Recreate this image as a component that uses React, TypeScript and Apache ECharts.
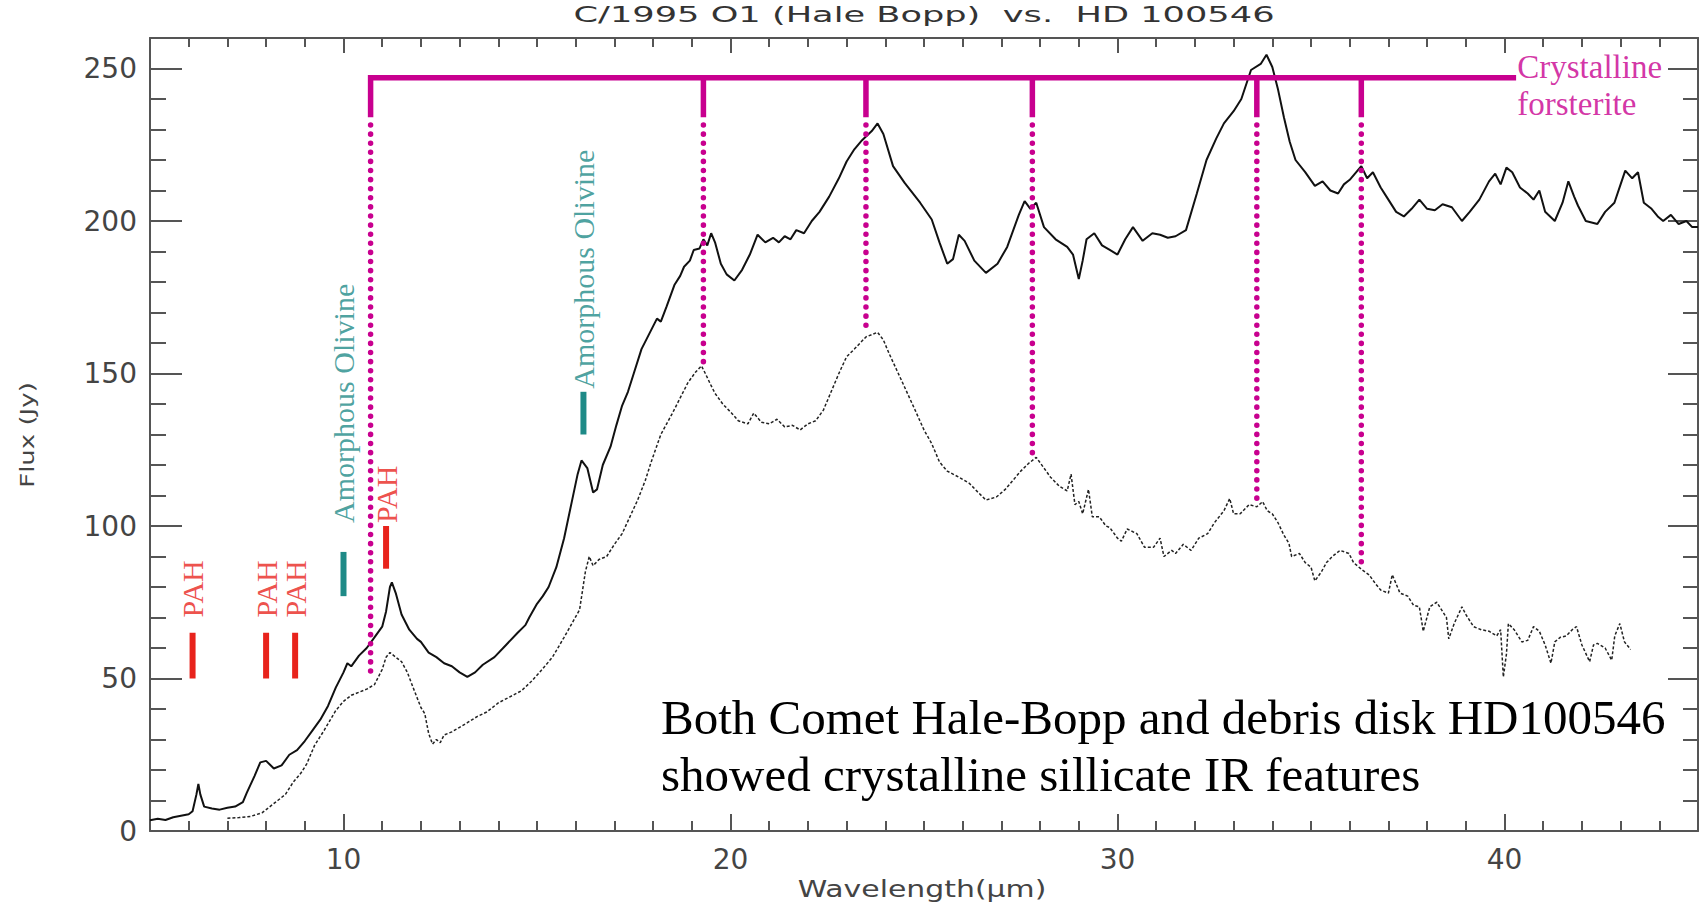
import React, { useEffect, useRef } from 'react';
import * as echarts from 'echarts';

// Upper solid spectrum [wavelength µm, flux Jy]
const hd100546: [number, number][] = [
  [5.0, 3.5], [5.2, 4.0], [5.4, 3.6], [5.6, 4.5], [5.8, 5.0], [6.0, 5.5], [6.1, 6.5], [6.2, 12], [6.25, 15.4],
  [6.3, 12], [6.4, 8.0], [6.6, 7.4], [6.8, 7.0], [7.0, 7.6], [7.2, 8.0], [7.4, 9.5], [7.5, 12.5], [7.7, 18],
  [7.85, 22.5], [8.0, 23], [8.2, 20.5], [8.4, 21.5], [8.6, 25], [8.8, 26.5], [9.0, 29.5], [9.2, 33], [9.4, 36.5],
  [9.6, 41], [9.8, 47], [10.0, 52], [10.1, 55], [10.2, 54], [10.4, 57.5], [10.6, 60], [10.8, 63.5], [11.0, 67],
  [11.1, 72], [11.2, 80], [11.25, 81.5], [11.35, 78], [11.5, 71], [11.7, 66], [11.9, 63], [12.0, 62], [12.2, 58.5],
  [12.4, 57], [12.6, 55], [12.8, 54], [13.0, 52], [13.2, 50.5], [13.4, 52], [13.6, 54.5], [13.9, 57], [14.2, 61],
  [14.5, 65], [14.7, 67.5], [14.8, 70], [15.0, 74.5], [15.15, 77], [15.3, 80], [15.5, 86.5], [15.7, 96],
  [15.9, 108], [16.05, 117], [16.15, 121.5], [16.3, 119], [16.45, 111], [16.55, 112], [16.7, 120], [16.9, 126],
  [17.05, 133], [17.2, 139.5], [17.35, 144], [17.5, 150], [17.7, 158], [17.9, 163], [18.1, 168], [18.2, 167],
  [18.35, 172], [18.55, 179], [18.7, 182], [18.8, 185], [18.95, 187], [19.05, 190.5], [19.2, 191], [19.3, 194],
  [19.4, 192], [19.5, 196], [19.6, 193], [19.75, 186], [19.9, 182.5], [20.1, 180.5], [20.3, 184], [20.5, 189],
  [20.7, 195.5], [20.9, 193], [21.1, 194.5], [21.25, 193], [21.4, 195], [21.55, 194], [21.7, 197], [21.9, 196],
  [22.1, 200], [22.3, 203], [22.55, 208], [22.8, 214], [23.0, 219.5], [23.2, 223.5], [23.4, 226.5], [23.65, 229.5],
  [23.8, 232], [23.95, 228.5], [24.2, 218], [24.5, 212.5], [24.9, 206], [25.2, 200.5], [25.4, 193], [25.6, 186],
  [25.75, 187.5], [25.9, 195.5], [26.05, 193.5], [26.3, 187], [26.6, 183], [26.9, 186], [27.15, 191.5],
  [27.45, 202], [27.6, 206.5], [27.75, 204], [27.9, 206], [28.1, 198], [28.4, 194], [28.7, 191.5], [28.85, 189],
  [29.0, 181], [29.1, 187], [29.2, 194], [29.4, 196], [29.6, 192], [29.8, 190.5], [30.0, 189], [30.2, 194],
  [30.4, 198], [30.65, 193.5], [30.9, 196], [31.1, 195.5], [31.3, 194.5], [31.5, 195], [31.77, 197], [32.05, 209],
  [32.3, 220], [32.55, 227], [32.75, 232], [33.0, 236], [33.2, 240], [33.45, 249.5], [33.7, 251.5], [33.85, 254.5],
  [34.0, 250.5], [34.15, 243], [34.3, 234], [34.45, 226], [34.6, 220], [34.85, 216], [35.1, 211.5], [35.3, 213],
  [35.5, 210], [35.7, 209], [35.85, 212], [36.0, 213.5], [36.3, 218], [36.45, 214], [36.6, 216], [36.8, 211],
  [36.95, 208], [37.2, 203], [37.4, 201.5], [37.6, 204], [37.8, 207], [38.0, 204], [38.2, 203.5], [38.4, 205.5],
  [38.64, 204.5], [38.9, 200], [39.1, 203], [39.35, 207], [39.6, 213], [39.76, 215.5], [39.9, 212], [40.05, 217.5],
  [40.2, 216], [40.4, 211], [40.6, 209], [40.75, 207], [40.9, 210], [41.05, 203], [41.3, 200], [41.5, 206],
  [41.65, 213], [41.8, 208], [41.9, 205], [42.1, 200], [42.4, 199], [42.6, 203], [42.84, 206], [43.0, 212],
  [43.12, 216.5], [43.3, 214], [43.45, 216], [43.6, 206], [43.8, 204], [43.96, 201.5], [44.1, 200], [44.3, 202],
  [44.5, 199], [44.7, 200], [44.85, 198], [45.0, 198],
];

// Lower dotted spectrum [wavelength µm, flux Jy]
const haleBopp: [number, number][] = [
  [7.0, 4.2], [7.3, 4.4], [7.6, 4.8], [7.9, 6.0], [8.1, 8.0], [8.3, 10], [8.5, 12], [8.7, 16], [8.9, 19],
  [9.05, 22], [9.25, 28], [9.5, 33], [9.8, 39.5], [10.0, 42.5], [10.2, 44.5], [10.4, 45.5], [10.6, 46.5],
  [10.8, 48], [11.0, 53], [11.1, 57], [11.2, 58.5], [11.35, 57], [11.5, 55.5], [11.65, 52], [11.8, 47],
  [12.0, 40.5], [12.1, 38.5], [12.2, 32], [12.3, 28.5], [12.4, 30], [12.5, 29], [12.6, 31.5], [12.8, 32.5],
  [13.0, 34], [13.2, 35.5], [13.45, 37.5], [13.7, 39], [14.0, 42], [14.3, 44], [14.6, 46], [14.85, 49],
  [15.1, 52.5], [15.4, 57], [15.7, 63.5], [15.9, 68], [16.1, 72.5], [16.25, 85], [16.35, 90], [16.45, 87],
  [16.6, 89], [16.8, 90], [17.0, 94], [17.2, 97.5], [17.4, 103], [17.6, 108.5], [17.8, 115], [17.95, 121],
  [18.2, 130], [18.5, 137], [18.7, 142], [18.9, 147], [19.1, 150.5], [19.25, 152.5], [19.35, 150], [19.5, 146],
  [19.6, 143.5], [19.8, 140], [20.03, 137], [20.2, 134.5], [20.45, 133.5], [20.6, 137], [20.8, 134], [21.0, 133.5],
  [21.2, 135], [21.4, 132.5], [21.6, 133], [21.8, 131.5], [22.0, 133.5], [22.2, 134.5], [22.4, 138], [22.6, 144],
  [22.8, 150], [23.0, 155.5], [23.2, 158], [23.5, 162], [23.8, 163.5], [23.95, 161], [24.1, 156.5], [24.3, 151],
  [24.5, 145.5], [24.77, 138], [25.0, 131.5], [25.2, 127], [25.4, 121], [25.6, 118], [25.9, 116], [26.17, 114],
  [26.4, 111], [26.6, 108.5], [26.87, 109.5], [27.1, 112], [27.3, 115], [27.5, 118], [27.7, 120.5], [27.9, 122.5],
  [28.1, 119], [28.27, 116], [28.5, 113], [28.7, 111.5], [28.8, 117], [28.9, 107], [29.0, 108], [29.1, 104],
  [29.25, 112], [29.35, 103], [29.53, 103], [29.7, 100], [29.8, 99.5], [30.0, 96], [30.1, 95], [30.25, 99],
  [30.5, 97.5], [30.7, 93], [30.93, 93], [31.1, 96], [31.2, 90], [31.4, 92], [31.5, 91], [31.7, 94], [31.9, 92],
  [32.1, 96], [32.33, 97.5], [32.5, 101], [32.75, 105], [32.9, 109], [33.0, 104], [33.17, 104], [33.4, 107],
  [33.6, 106.3], [33.75, 108], [33.87, 105], [34.0, 104], [34.15, 101], [34.3, 97], [34.43, 94.3], [34.5, 90],
  [34.7, 91], [34.85, 88], [35.0, 86.5], [35.1, 82], [35.27, 85], [35.4, 88], [35.55, 90], [35.75, 92],
  [35.98, 91], [36.1, 88], [36.33, 85.5], [36.5, 84], [36.67, 81], [36.8, 79], [37.0, 78], [37.1, 84], [37.3, 78],
  [37.5, 77], [37.65, 74], [37.8, 73.5], [37.9, 65.5], [38.07, 73.5], [38.25, 75], [38.5, 70], [38.56, 63],
  [38.7, 68], [38.9, 73.5], [39.0, 71], [39.2, 67], [39.4, 66], [39.6, 65.5], [39.8, 64], [39.9, 66], [39.97, 50.5],
  [40.05, 58], [40.1, 68], [40.25, 66], [40.45, 62], [40.6, 62.5], [40.75, 67], [40.9, 65.5], [41.05, 61],
  [41.2, 55], [41.3, 62], [41.44, 63.5], [41.6, 64], [41.75, 66], [41.86, 67], [42.0, 61], [42.2, 55.5],
  [42.3, 61], [42.4, 61.5], [42.6, 60], [42.77, 56], [42.85, 64], [42.98, 68], [43.1, 62], [43.26, 59.5],
];

// Crystalline forsterite bands
const forsteriteBands = [10.7, 19.3, 23.5, 27.8, 33.6, 36.3];
const forsteriteDotEnd = [52, 153, 164, 122, 107, 88];
const forsteriteLevel = 247;
const forsteriteTickEnd = 234;
const forsteriteDotStart = 231.5;
const forsteriteLineEnd = 40.3;

// PAH features
const pahBands = [6.1, 8.0, 8.75, 11.1];
const pahLow = [50, 50, 50, 86];
const pahHigh = [65, 65, 65, 100];
const pahLabelY = [70, 70, 70, 101];

// Amorphous olivine features
const olivineBands = [10.0, 16.2];
const olivineLow = [77, 130];
const olivineHigh = [91.5, 144];
const olivineLabelY = [101, 145];

const titleText = 'C/1995 O1 (Hale Bopp)  vs.  HD 100546';
const xName = 'Wavelength(\u00b5m)';
const yName = 'Flux (Jy)';
const noteLines = [
  'Both Comet Hale-Bopp and debris disk HD100546',
  'showed crystalline sillicate IR features',
];

const MAG = '#c8008f';
const RED = '#e8231c';
const TEAL = '#1e8a87';
const AX = '#555';

export default function App() {
  const ref = useRef<HTMLDivElement>(null);
  useEffect(() => {
    const chart = echarts.init(ref.current!, null, { renderer: 'svg' });

    const seg = (pts: number[][], color: string, width: number, extra: any = {}) => ({
      type: 'line',
      xAxisIndex: 0,
      yAxisIndex: 0,
      data: pts,
      symbol: 'none',
      silent: true,
      z: 5,
      lineStyle: { color, width, ...extra },
    });

    const series: any[] = [
      {
        type: 'line', name: 'HD 100546', data: hd100546, symbol: 'none', z: 3,
        lineStyle: { color: '#111', width: 2 },
      },
      {
        type: 'line', name: 'Hale-Bopp', data: haleBopp, symbol: 'none', z: 3,
        lineStyle: { color: '#222', width: 1.5, type: [3, 2] },
      },
      seg([[forsteriteBands[0], forsteriteTickEnd], [forsteriteBands[0], forsteriteLevel], [forsteriteLineEnd, forsteriteLevel]], MAG, 5.5, { join: 'miter' }),
    ];
    forsteriteBands.forEach((b, i) => {
      if (i > 0) series.push(seg([[b, forsteriteLevel], [b, forsteriteTickEnd]], MAG, 5.5));
      series.push(seg([[b, forsteriteDotStart], [b, forsteriteDotEnd[i]]], MAG, 5.5, { type: [0.1, 9], cap: 'round' }));
    });
    pahBands.forEach((b, i) => series.push(seg([[b, pahLow[i]], [b, pahHigh[i]]], RED, 6)));
    olivineBands.forEach((b, i) => series.push(seg([[b, olivineLow[i]], [b, olivineHigh[i]]], TEAL, 6)));

    const rotLabel = (color: string, text: string) => ({
      show: true, formatter: text, position: 'inside', rotate: 90, align: 'left', verticalAlign: 'middle',
      fontFamily: '"Liberation Serif", "Times New Roman", serif', fontSize: 30, color,
    });
    series.push({
      type: 'scatter', symbolSize: 0.1, itemStyle: { color: 'rgba(0,0,0,0)' }, silent: true, z: 6,
      data: pahBands.map((b, i) => [b, pahLabelY[i]]),
      label: rotLabel(RED, 'PAH'),
    });
    series.push({
      type: 'scatter', symbolSize: 0.1, itemStyle: { color: 'rgba(0,0,0,0)' }, silent: true, z: 6,
      data: olivineBands.map((b, i) => [b, olivineLabelY[i]]),
      label: rotLabel(TEAL, 'Amorphous Olivine'),
    });
    series.push({
      type: 'scatter', symbolSize: 0.1, itemStyle: { color: 'rgba(0,0,0,0)' }, silent: true, z: 6,
      data: [[forsteriteLineEnd + 0.03, 244.5]],
      label: {
        show: true, formatter: 'Crystalline\nforsterite', position: 'inside', align: 'left', verticalAlign: 'middle',
        fontFamily: '"Liberation Serif", "Times New Roman", serif', fontSize: 33, lineHeight: 37, color: MAG,
      },
    });

    const axisLine = { show: true, onZero: false, lineStyle: { color: AX, width: 2 } };
    const tickFont = { fontFamily: '"DejaVu Sans", sans-serif', fontSize: 28, color: '#444' };
    const xBase = {
      type: 'value', min: 5, max: 45, splitNumber: 4, minInterval: 10, maxInterval: 10,
      axisLine, splitLine: { show: false },
    };
    const yBase = {
      type: 'value', min: 0, max: 260, interval: 50, axisLine, splitLine: { show: false },
    };

    const option: any = {
      animation: false,
      backgroundColor: '#fff',
      grid: { left: 150, top: 38, width: 1548, height: 793, containLabel: false },
      xAxis: [
        {
          ...xBase, position: 'bottom',
          axisTick: { show: true, inside: true, length: 17, lineStyle: { color: AX, width: 2 } },
          minorTick: { show: true, splitNumber: 10, length: 10, lineStyle: { color: AX, width: 2 } },
          axisLabel: { show: true, showMinLabel: false, showMaxLabel: false, margin: 14, ...tickFont },
        },
        {
          ...xBase, position: 'top',
          axisTick: { show: true, inside: true, length: 15, lineStyle: { color: AX, width: 2 } },
          minorTick: { show: true, splitNumber: 10, length: 9, lineStyle: { color: AX, width: 2 } },
          axisLabel: { show: false },
        },
      ],
      yAxis: [
        {
          ...yBase, position: 'left',
          axisTick: { show: true, inside: true, length: 32, lineStyle: { color: AX, width: 2 } },
          minorTick: { show: true, splitNumber: 5, length: 16, lineStyle: { color: AX, width: 2 } },
          axisLabel: { show: true, showMaxLabel: false, margin: 13, ...tickFont },
        },
        {
          ...yBase, position: 'right',
          axisTick: { show: true, inside: true, length: 30, lineStyle: { color: AX, width: 2 } },
          minorTick: { show: true, splitNumber: 5, length: 15, lineStyle: { color: AX, width: 2 } },
          axisLabel: { show: false },
        },
      ],
      graphic: [
        {
          type: 'text', x: 924, y: 15, scaleX: 1.6, silent: true,
          style: { text: titleText, font: '22px "DejaVu Sans"', fill: '#333', align: 'center', verticalAlign: 'middle', textAlign: 'center', textVerticalAlign: 'middle' },
        },
        {
          type: 'text', x: 922, y: 889, scaleX: 1.3, silent: true,
          style: { text: xName, font: '23px "DejaVu Sans"', fill: '#444', align: 'center', verticalAlign: 'middle', textAlign: 'center', textVerticalAlign: 'middle' },
        },
        {
          type: 'text', x: 27, y: 435, rotation: Math.PI / 2, scaleX: 1.3, silent: true,
          style: { text: yName, font: '20px "DejaVu Sans"', fill: '#444', align: 'center', verticalAlign: 'middle', textAlign: 'center', textVerticalAlign: 'middle' },
        },
        ...noteLines.map((t, i) => ({
          type: 'text', x: 661, y: 717 + i * 57, silent: true,
          style: { text: t, font: '49px "Liberation Serif"', fill: '#000', align: 'left', verticalAlign: 'middle', textAlign: 'left', textVerticalAlign: 'middle' },
        })),
      ],
      series,
    };
    chart.setOption(option);
    return () => chart.dispose();
  }, []);
  return <div ref={ref} style={{ position: 'absolute', left: 0, top: 0, width: 1701, height: 903, background: '#fff' }} />;
}
